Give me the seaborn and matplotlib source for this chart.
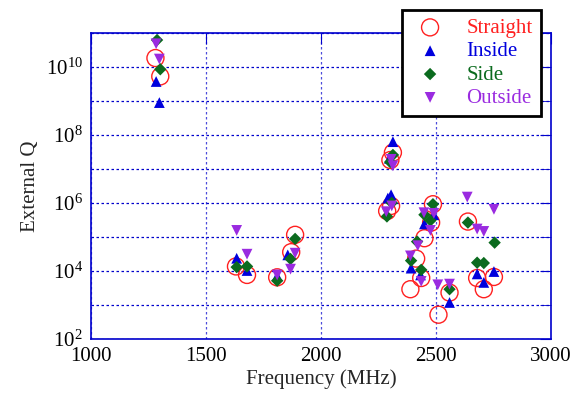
import numpy as np
import pandas as pd
import seaborn as sns
import matplotlib
matplotlib.use("Agg")
import matplotlib.pyplot as plt
from matplotlib.ticker import LogLocator, NullFormatter, MultipleLocator

# values (frequency in MHz, log10 of external Q)
straight_f = [1280, 1301, 1630, 1678, 1809, 1870, 1887, 2287, 2304, 2301, 2312,
              2388, 2413, 2435, 2449, 2478, 2486, 2510, 2558, 2638, 2678, 2707, 2751]
straight_q = [10.26, 9.72, 4.13, 3.88, 3.81, 4.55, 5.06, 5.76, 5.91, 7.26, 7.48,
              3.46, 4.36, 3.79, 4.96, 5.42, 5.96, 2.71, 3.36, 5.45, 3.79, 3.46, 3.82]

inside_f = [1283, 1297, 1633, 1678, 1809, 1855, 2297, 2312, 2304, 2290, 2391,
            2432, 2449, 2490, 2558, 2678, 2707, 2751]
inside_q = [9.57, 8.95, 4.37, 4.01, 3.85, 4.47, 7.31, 7.80, 6.24, 6.14, 4.08,
            3.88, 5.38, 5.65, 3.07, 3.91, 3.66, 3.98]

side_f = [1287, 1301, 1633, 1678, 1809, 1867, 1887, 2286, 2307, 2312, 2300,
          2391, 2417, 2435, 2449, 2475, 2486, 2558, 2638, 2678, 2707, 2754]
side_q = [10.79, 9.93, 4.11, 4.13, 3.71, 4.35, 4.94, 5.60, 6.00, 7.41, 7.20,
          4.30, 4.86, 4.03, 5.65, 5.48, 5.96, 3.46, 5.42, 4.24, 4.23, 4.83]

outside_f = [1283, 1297, 1633, 1678, 1809, 1867, 1887, 2283, 2307, 2304, 2312,
             2388, 2420, 2435, 2447, 2475, 2490, 2507, 2558, 2635, 2678, 2707, 2751]
outside_q = [10.68, 10.23, 5.19, 4.49, 3.88, 4.05, 4.52, 5.74, 5.91, 7.28, 7.09,
             4.44, 4.74, 3.69, 5.71, 5.19, 5.69, 3.59, 3.61, 6.17, 5.23, 5.16, 5.81]

sns.set_style("white")
plt.rcParams['font.family'] = ['Liberation Serif', 'DejaVu Serif']
plt.rcParams['mathtext.fontset'] = 'custom'
plt.rcParams['mathtext.rm'] = 'Liberation Serif'
plt.rcParams['mathtext.it'] = 'Liberation Serif:italic'

fig = plt.figure(figsize=(5.76, 4.01), dpi=100)
ax = fig.add_axes([0.158, 0.155, 0.799, 0.763])

blue = '#0000cc'

# draw the four series
sns.scatterplot(x=straight_f, y=np.power(10.0, straight_q), ax=ax, marker='o', s=150,
                facecolor='none', edgecolor='#ff2020', linewidth=1.0, label='Straight', zorder=3)
sns.scatterplot(x=inside_f, y=np.power(10.0, inside_q), ax=ax, marker='^', s=60,
                color='#0000dd', edgecolor='none', label='Inside', zorder=3)
sns.scatterplot(x=side_f, y=np.power(10.0, side_q), ax=ax, marker='D', s=40,
                color='#0b6b1e', edgecolor='none', label='Side', zorder=3)
sns.scatterplot(x=outside_f, y=np.power(10.0, outside_q), ax=ax, marker='v', s=60,
                color='#9a2be0', edgecolor='none', label='Outside', zorder=3)

ax.set_yscale('log')
ax.set_xlim(1000, 3000)
ax.set_ylim(1e2, 1e11)
ax.xaxis.set_major_locator(MultipleLocator(500))
ax.yaxis.set_major_locator(LogLocator(base=100, numticks=20))
ax.yaxis.set_minor_locator(LogLocator(base=10, subs=[1.0], numticks=20))
ax.yaxis.set_minor_formatter(NullFormatter())

ax.grid(True, which='both', axis='y', color=blue, linestyle=(0, (2, 2)), linewidth=0.9)
ax.grid(True, which='major', axis='x', color=blue, linestyle=(0, (2, 2)), linewidth=0.9, alpha=0.7)

for sp in ax.spines.values():
    sp.set_color(blue)
    sp.set_linewidth(1.2)

ax.tick_params(which='both', direction='in', color=blue, top=True, right=True,
               labelsize=15, labelcolor='black', pad=6)
ax.tick_params(which='major', length=8)
ax.tick_params(which='minor', length=8)

ax.set_xlabel('Frequency (MHz)', fontsize=15, labelpad=2)
ax.set_ylabel('External Q', fontsize=15, labelpad=4)

leg = ax.legend(loc='upper right', bbox_to_anchor=(0.978, 1.075), fontsize=15,
                frameon=True, fancybox=False, borderpad=0.4, handletextpad=0.8,
                labelspacing=0.18, handlelength=1.9, borderaxespad=0)
leg.get_frame().set_edgecolor('black')
leg.get_frame().set_linewidth(2)
leg.get_frame().set_alpha(1)
for txt, c in zip(leg.get_texts(), ['#ff2020', '#0000dd', '#0b6b1e', '#9a2be0']):
    txt.set_color(c)

plt.savefig("out.png", dpi=100)
